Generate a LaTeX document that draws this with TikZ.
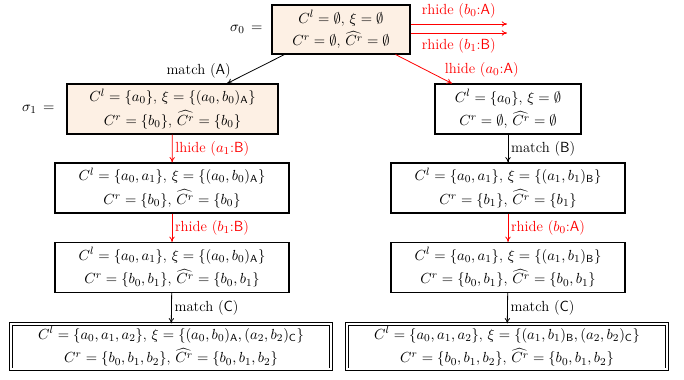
\documentclass[tikz,border=0pt]{standalone}
\usepackage{amsmath,amssymb}
\usetikzlibrary{arrows.meta,calc}
\definecolor{boxfill}{RGB}{253,240,228}
\def\upx{0.75pt}
\tikzset{
  stbox/.style={draw=black, line width=0.8pt, align=center, inner sep=2pt, font=\fontsize{11}{13}\selectfont},
  finbox/.style={stbox, double, double distance=1.3pt, line width=0.6pt},
  conn/.style={-{To[length=4pt,width=4pt]}, line width=0.6pt},
  hidearr/.style={conn, draw=red},
  lab/.style={font=\fontsize{11}{13}\fontfamily{ppl}\selectfont, inner sep=2pt},
  redlab/.style={lab, text=red},
}
\newcommand{\sA}{\textsf{A}}
\newcommand{\sB}{\textsf{B}}
\newcommand{\sC}{\textsf{C}}
\begin{document}
\begin{tikzpicture}[x=0.75pt,y=-0.75pt]
\useasboundingbox (0,0) rectangle (684,379);
% nodes
\node[stbox, fill=boxfill, minimum width=138*\upx, minimum height=49*\upx] (s0) at (341,29.5)
  {$C^l = \emptyset$, $\xi = \emptyset$\\[3pt] $C^r = \emptyset$, $\widehat{C^r} = \emptyset$};
\node[lab, anchor=east] (s0l) at ([xshift=-6*\upx]s0.west) {$\sigma_0\,=$};
\node[stbox, fill=boxfill, minimum width=211*\upx, minimum height=50*\upx] (s1) at (172.5,109)
  {$C^l = \{a_0\}$, $\xi = \{(a_0,b_0)_{\sA}\}$\\[3pt] $C^r = \{b_0\}$, $\widehat{C^r} = \{b_0\}$};
\node[lab, anchor=east] (s1l) at ([xshift=-9*\upx]s1.west) {$\sigma_1\,=$};
\node[stbox, minimum width=146*\upx, minimum height=50*\upx] (r1) at (508,109)
  {$C^l = \{a_0\}$, $\xi = \emptyset$\\[3pt] $C^r = \emptyset$, $\widehat{C^r} = \emptyset$};
\node[stbox, minimum width=234*\upx, minimum height=50*\upx] (l2) at (172,188)
  {$C^l = \{a_0,a_1\}$, $\xi = \{(a_0,b_0)_{\sA}\}$\\[3pt] $C^r = \{b_0\}$, $\widehat{C^r} = \{b_0\}$};
\node[stbox, minimum width=234*\upx, minimum height=50*\upx] (r2) at (508,188)
  {$C^l = \{a_0,a_1\}$, $\xi = \{(a_1,b_1)_{\sB}\}$\\[3pt] $C^r = \{b_1\}$, $\widehat{C^r} = \{b_1\}$};
\node[stbox, minimum width=234*\upx, minimum height=50*\upx] (l3) at (172,267.5)
  {$C^l = \{a_0,a_1\}$, $\xi = \{(a_0,b_0)_{\sA}\}$\\[3pt] $C^r = \{b_0,b_1\}$, $\widehat{C^r} = \{b_0,b_1\}$};
\node[stbox, minimum width=234*\upx, minimum height=50*\upx] (r3) at (508,267.5)
  {$C^l = \{a_0,a_1\}$, $\xi = \{(a_1,b_1)_{\sB}\}$\\[3pt] $C^r = \{b_0,b_1\}$, $\widehat{C^r} = \{b_0,b_1\}$};
\node[finbox, minimum width=320*\upx, minimum height=45*\upx] (l4) at (171,346.5)
  {$C^l = \{a_0,a_1,a_2\}$, $\xi = \{(a_0,b_0)_{\sA},(a_2,b_2)_{\sC}\}$\\[3pt] $C^r = \{b_0,b_1,b_2\}$, $\widehat{C^r} = \{b_0,b_1,b_2\}$};
\node[finbox, minimum width=320*\upx, minimum height=45*\upx] (r4) at (507,346.5)
  {$C^l = \{a_0,a_1,a_2\}$, $\xi = \{(a_1,b_1)_{\sB},(a_2,b_2)_{\sC}\}$\\[3pt] $C^r = \{b_0,b_1,b_2\}$, $\widehat{C^r} = \{b_0,b_1,b_2\}$};
% free ends of the rhide arrows
\coordinate (e1) at (507,24);
\coordinate (e2) at (507,33);
% connectors
\draw[hidearr] (s0.east |- e1) -- (e1) node[redlab, midway, above=2pt] {rhide ($b_0$:\sA)};
\draw[hidearr] (s0.east |- e2) -- (e2) node[redlab, midway, below=2pt] {rhide ($b_1$:\sB)};
\draw[conn] ([xshift=13*\upx]s0.south west) -- ([xshift=54.5*\upx]s1.north)
  node[lab, pos=0.5, anchor=east, xshift=-22*\upx, yshift=-2*\upx] {match (\sA)};
\draw[hidearr] ([xshift=-15*\upx]s0.south east) -- ([xshift=-56*\upx]r1.north)
  node[redlab, pos=0.5, anchor=west, xshift=18*\upx, yshift=-1*\upx] {lhide ($a_0$:\sA)};
\draw[hidearr] (s1) -- (l2) node[redlab, midway, right] {lhide ($a_1$:\sB)};
\draw[hidearr] (l2) -- (l3) node[redlab, midway, right] {rhide ($b_1$:\sB)};
\draw[conn] (l3) -- (l4) node[lab, midway, right] {match (\sC)};
\draw[conn] (r1) -- (r2) node[lab, midway, right] {match (\sB)};
\draw[hidearr] (r2) -- (r3) node[redlab, midway, right] {rhide ($b_0$:\sA)};
\draw[conn] (r3) -- (r4) node[lab, midway, right] {match (\sC)};
\end{tikzpicture}
\end{document}
